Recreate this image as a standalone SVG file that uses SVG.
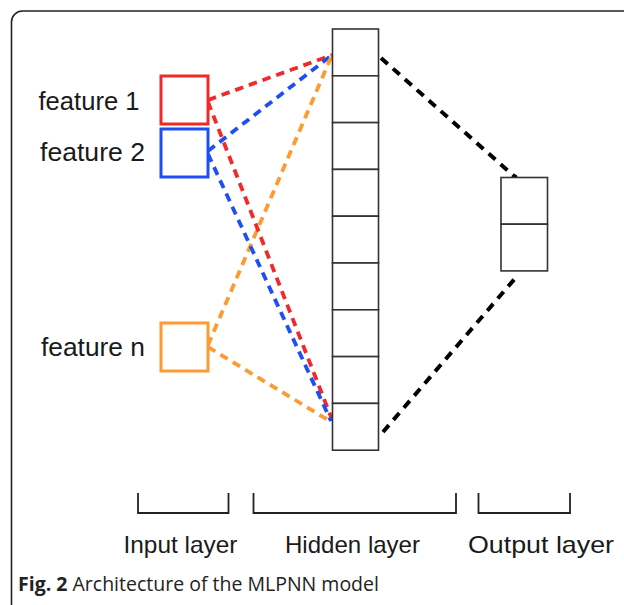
<svg xmlns="http://www.w3.org/2000/svg" width="624" height="605" viewBox="0 0 624 605">
  <style>
    .lbl { font-family: "Liberation Sans", Arial, Helvetica, sans-serif; fill: #1a1a1a; }
    .cap { font-family: "Open Sans", "Noto Sans", sans-serif; fill: #222; font-size: 19.5px; }
    .cell { fill: #fff; stroke: #333; stroke-width: 1.6; }
    .inbox { fill: #fff; stroke-width: 3; }
    .dash { fill: none; stroke-width: 3.8; stroke-dasharray: 8.5 6; }
    .dashk { fill: none; stroke: #000; stroke-width: 4; stroke-dasharray: 9 7; }
    .bracket { fill: none; stroke: #222; stroke-width: 1.8; }
  </style>
  <rect width="624" height="605" fill="#fff"/>

  <!-- figure frame -->
  <rect x="11.5" y="11" width="700" height="605" rx="11" fill="none" stroke="#222" stroke-width="1.6"/>

  <!-- connectors -->
  <g id="connectors">
    <line class="dash" stroke="#f02a2a" x1="208" y1="100" x2="332" y2="55"/>
    <line class="dash" stroke="#1f4ff2" x1="208" y1="151" x2="332" y2="55"/>
    <line class="dash" stroke="#ff9a33" x1="208" y1="345" x2="332" y2="55"/>
    <line class="dash" stroke="#f02a2a" x1="208" y1="102" x2="333" y2="422"/>
    <line class="dash" stroke="#1f4ff2" x1="208" y1="154" x2="331" y2="421"/>
    <line class="dash" stroke="#ff9a33" x1="208" y1="347" x2="328" y2="420"/>
    <line class="dashk" x1="381" y1="58" x2="515" y2="177"/>
    <line class="dashk" x1="383" y1="432" x2="518" y2="275"/>
    <circle cx="515" cy="177" r="2.5" fill="#000"/>
  </g>

  <!-- input layer -->
  <g id="input-1">
    <rect class="inbox" stroke="#ee2a2a" x="161" y="76" width="47" height="48"/>
    <text class="lbl" x="38.5" y="110" font-size="25" textLength="101" lengthAdjust="spacingAndGlyphs">feature 1</text>
  </g>
  <g id="input-2">
    <rect class="inbox" stroke="#1f4ff2" x="161" y="129" width="47" height="48"/>
    <text class="lbl" x="40" y="161" font-size="25" textLength="105" lengthAdjust="spacingAndGlyphs">feature 2</text>
  </g>
  <g id="input-n">
    <rect class="inbox" stroke="#ff9a33" x="161" y="323" width="47" height="48"/>
    <text class="lbl" x="41" y="356" font-size="25" textLength="104" lengthAdjust="spacingAndGlyphs">feature n</text>
  </g>

  <!-- hidden layer -->
  <g id="hidden">
    <rect class="cell" x="332.5" y="29" width="46" height="46.8"/>
    <rect class="cell" x="332.5" y="75.8" width="46" height="46.8"/>
    <rect class="cell" x="332.5" y="122.6" width="46" height="46.8"/>
    <rect class="cell" x="332.5" y="169.4" width="46" height="46.8"/>
    <rect class="cell" x="332.5" y="216.2" width="46" height="46.8"/>
    <rect class="cell" x="332.5" y="263" width="46" height="46.8"/>
    <rect class="cell" x="332.5" y="309.8" width="46" height="46.8"/>
    <rect class="cell" x="332.5" y="356.6" width="46" height="46.8"/>
    <rect class="cell" x="332.5" y="403.4" width="46" height="46.8"/>
  </g>

  <!-- output layer -->
  <g id="output">
    <rect class="cell" x="501" y="177.5" width="46.5" height="46.7"/>
    <rect class="cell" x="501" y="224.2" width="46.5" height="46.7"/>
  </g>

  <!-- layer brackets and labels -->
  <g id="label-input">
    <path class="bracket" d="M138 493 V513 H228.5 V493"/>
    <text class="lbl" x="123.5" y="553" font-size="24" textLength="114" lengthAdjust="spacingAndGlyphs">Input layer</text>
  </g>
  <g id="label-hidden">
    <path class="bracket" d="M253.5 493 V513 H456 V493"/>
    <text class="lbl" x="285" y="553" font-size="24" textLength="135" lengthAdjust="spacingAndGlyphs">Hidden layer</text>
  </g>
  <g id="label-output">
    <path class="bracket" d="M478.5 493 V513 H570 V493"/>
    <text class="lbl" x="468" y="553" font-size="24" textLength="146" lengthAdjust="spacingAndGlyphs">Output layer</text>
  </g>

  <!-- caption -->
  <text class="cap" x="18" y="591"><tspan font-weight="bold">Fig. 2</tspan> Architecture of the MLPNN model</text>
</svg>
